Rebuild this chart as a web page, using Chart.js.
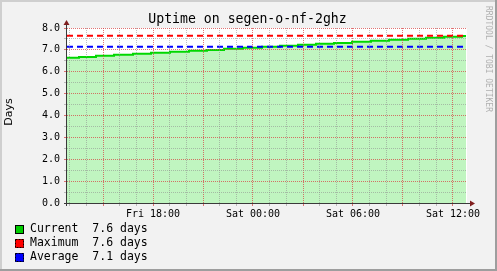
<!DOCTYPE html>
<html>
<head>
<meta charset="utf-8">
<script src="https://cdn.jsdelivr.net/npm/chart.js@4/dist/chart.umd.min.js"></script>
<style>
  html, body { margin: 0; padding: 0; background: #f2f2f2; }
  canvas { display: block; }
</style>
</head>
<body>
<canvas id="chart" width="497" height="271"></canvas>
<script>
// Values
const title = "Uptime on segen-o-nf-2ghz";
const yTitle = "Days";
const watermark = "RRDTOOL / TOBI OETIKER";
// hours counted from Fri 00:00
const stepHours = [12.84, 13.56, 14.58, 15.66, 16.80, 17.88, 19.02, 20.16, 21.24, 22.26, 23.40, 24.54,
  25.62, 26.70, 27.78, 28.86, 29.94, 31.08, 32.16, 33.30, 34.38, 35.46, 36.54, 36.78];
const uptimeDays = [6.64, 6.68, 6.73, 6.78, 6.82, 6.87, 6.91, 6.96, 7.00, 7.05, 7.10, 7.14,
  7.19, 7.23, 7.28, 7.32, 7.37, 7.42, 7.46, 7.51, 7.55, 7.60, 7.64, 7.64];
const maxDays = 7.65;
const avgDays = 7.14;
const xRange = [12.84, 36.84];
const yRange = [0, 8];
const xLabelHours = [18, 24, 30, 36];
const xLabels = ["Fri 18:00", "Sat 00:00", "Sat 06:00", "Sat 12:00"];
const legendNames = ["Current", "Maximum", "Average"];
const legendValues = [7.6, 7.6, 7.1];
const legendColors = ["#00cc00", "#ff0000", "#0000ff"];

const mono = "'DejaVu Sans Mono', monospace";
const gridCol = "rgba(140,140,140,0.55)";
const mgridCol = "rgba(215,70,70,0.75)";
const arrowCol = "#801f1f";

const xy = (xs, ys) => xs.map((x, i) => ({ x: x, y: ys[i] }));
const first = stepHours[0], last = stepHours[stepHours.length - 1];

const rrdLook = {
  id: "rrdLook",
  beforeDraw(chart) {
    const c = chart.ctx, a = chart.chartArea;
    const W = chart.width, H = chart.height;
    c.save();
    c.fillStyle = "#f2f2f2";
    c.fillRect(0, 0, W, H);
    // frame shades
    c.fillStyle = "#cfcfcf";
    c.fillRect(0, 0, W, 2);
    c.fillRect(0, 0, 2, H);
    c.fillStyle = "#9e9e9e";
    c.fillRect(0, H - 2, W, 2);
    c.fillRect(W - 2, 0, 2, H);
    c.fillStyle = "#ffffff";
    c.fillRect(a.left, a.top, a.right - a.left, a.bottom - a.top);
    c.restore();
  },
  afterDraw(chart) {
    const c = chart.ctx, a = chart.chartArea;
    c.save();
    // axes
    c.strokeStyle = "#3a3a3a";
    c.lineWidth = 1;
    c.beginPath();
    c.moveTo(a.left - 0.5, a.bottom + 3);
    c.lineTo(a.left - 0.5, a.top - 4);
    c.moveTo(a.left - 3, a.bottom + 0.5);
    c.lineTo(a.right + 4, a.bottom + 0.5);
    c.stroke();
    // arrows
    c.fillStyle = arrowCol;
    c.beginPath();
    c.moveTo(a.left - 3.5, a.top - 3);
    c.lineTo(a.left + 2.5, a.top - 3);
    c.lineTo(a.left - 0.5, a.top - 8);
    c.closePath();
    c.fill();
    c.beginPath();
    c.moveTo(a.right + 3, a.bottom - 2.5);
    c.lineTo(a.right + 3, a.bottom + 3.5);
    c.lineTo(a.right + 8, a.bottom + 0.5);
    c.closePath();
    c.fill();

    // title
    c.fillStyle = "#000";
    c.font = "13.2px " + mono;
    c.textAlign = "center";
    c.textBaseline = "middle";
    c.fillText(title, 247.5, 19.5);

    // y title
    c.save();
    c.translate(9, 112);
    c.rotate(-Math.PI / 2);
    c.font = "11px 'DejaVu Sans', sans-serif";
    c.fillText(yTitle, 0, 0);
    c.restore();

    // watermark
    c.save();
    c.translate(488, 59);
    c.rotate(Math.PI / 2);
    c.fillStyle = "#b0b0b0";
    c.font = "8px " + mono;
    c.fillText(watermark, 0, 0);
    c.restore();

    // legend
    c.textAlign = "left";
    c.font = "11.5px " + mono;
    legendNames.forEach((name, i) => {
      const cy = 229 + i * 14;
      c.fillStyle = legendColors[i];
      c.fillRect(15, cy - 4, 9, 9);
      c.strokeStyle = "#000";
      c.setLineDash(i === 0 ? [] : [2, 1]);
      c.strokeRect(15.5, cy - 3.5, 8, 8);
      c.setLineDash([]);
      c.fillStyle = "#000";
      c.fillText(name.padEnd(9) + legendValues[i].toFixed(1) + " days", 30, cy + 0.5);
    });
    c.restore();
  }
};

new Chart(document.getElementById("chart"), {
  type: "line",
  data: {
    datasets: [
      {
        label: "Maximum",
        data: xy([first, last], [maxDays, maxDays]),
        borderColor: "#ff0000",
        borderWidth: 2,
        borderDash: [6, 4],
        pointRadius: 0,
        fill: false
      },
      {
        label: "Average",
        data: xy([first, last], [avgDays, avgDays]),
        borderColor: "#0000ff",
        borderWidth: 2,
        borderDash: [6, 4],
        pointRadius: 0,
        fill: false
      },
      {
        label: "Current",
        data: xy(stepHours, uptimeDays),
        stepped: true,
        borderColor: "#00d800",
        borderWidth: 2,
        backgroundColor: "#c0f5c0",
        fill: "origin",
        pointRadius: 0
      }
    ]
  },
  options: {
    responsive: false,
    devicePixelRatio: 1,
    animation: false,
    layout: { padding: { top: 28, right: 30, left: 0, bottom: 0 } },
    plugins: { legend: { display: false }, tooltip: { enabled: false }, title: { display: false } },
    scales: {
      x: {
        type: "linear",
        min: xRange[0],
        max: xRange[1],
        afterBuildTicks: s => {
          const t = [];
          for (let h = Math.ceil(s.min); h <= s.max; h++) t.push({ value: h });
          s.ticks = t;
        },
        afterFit: s => { s.height = 68; },
        grid: {
          z: 1,
          color: ctx => (ctx.tick && Math.round(ctx.tick.value) % 3 === 0) ? mgridCol : gridCol,
          tickLength: 3,
          lineWidth: 1
        },
        border: { display: false, dash: [1, 1] },
        ticks: {
          autoSkip: false,
          maxRotation: 0,
          padding: 2,
          color: "#000",
          font: { family: mono, size: 10 },
          callback: v => {
            const i = xLabelHours.indexOf(v);
            return i >= 0 ? xLabels[i] : "";
          }
        }
      },
      y: {
        min: yRange[0],
        max: yRange[1],
        afterFit: s => { s.width = 67; },
        grid: {
          z: 1,
          color: ctx => (ctx.tick && ctx.tick.value % 1 === 0) ? mgridCol : gridCol,
          tickLength: 3,
          lineWidth: 1
        },
        border: { display: false, dash: [1, 1] },
        ticks: {
          stepSize: 0.5,
          autoSkip: false,
          padding: 4,
          color: "#000",
          font: { family: mono, size: 10 },
          callback: v => Number.isInteger(v) ? v.toFixed(1) : ""
        }
      }
    }
  },
  plugins: [rrdLook]
});
</script>
</body>
</html>
